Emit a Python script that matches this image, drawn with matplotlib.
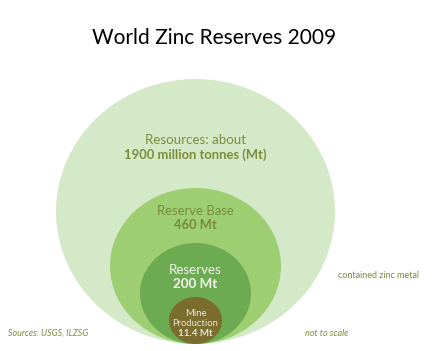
import matplotlib
matplotlib.use("Agg")
import matplotlib.pyplot as plt
from matplotlib.patches import Ellipse

# Data
categories = ["Resources", "Reserve Base", "Reserves", "Mine Production"]
values_mt = [1900, 460, 200, 11.4]
name_labels = [["Resources: about"], ["Reserve Base"], ["Reserves"], ["Mine", "Production"]]
value_labels = ["1900 million tonnes (Mt)", "460 Mt", "200 Mt", "11.4 Mt"]
title = "World Zinc Reserves 2009"
note_right = "contained zinc metal"
note_source = "Sources: USGS, ILZSG"
note_scale = "not to scale"

# Layout (pixels, not to scale)
W, H = 437, 351
cx, bottom = 195.5, 344
widths = [279, 171, 111, 53]
heights = [265, 156, 101, 47]
fills = ["#d4e9c7", "#9dcf72", "#6dab52", "#7a6d2e"]
name_y = [[140], [211], [270], [313, 323]]
value_y = [155, 225, 284, 333]
name_sizes = [9.6, 9.4, 9.6, 6.8]
value_sizes = [9.4, 9.4, 9.6, 7.0]
text_colors = ["#7d8c3c", "#768a3c", "#f2f6ec", "#e6e6d6"]
fam = ["Lato", "DejaVu Sans"]

fig = plt.figure(figsize=(W / 100, H / 100), dpi=100)
ax = fig.add_axes([0, 0, 1, 1])
ax.set_xlim(0, W)
ax.set_ylim(H, 0)
ax.axis("off")

for w, h, c in zip(widths, heights, fills):
    ax.add_patch(Ellipse((cx, bottom - h / 2), w, h, facecolor=c, edgecolor="none"))

for i in range(len(categories)):
    for line, y in zip(name_labels[i], name_y[i]):
        ax.text(cx, y, line, ha="center", va="center", fontsize=name_sizes[i],
                color=text_colors[i], family=fam)
    ax.text(cx, value_y[i], value_labels[i], ha="center", va="center", fontsize=value_sizes[i],
            color=text_colors[i], family=fam, fontweight="bold")

ax.text(214, 38, title, ha="center", va="center", fontsize=15, color="black", family=fam)
ax.text(379, 275, note_right, ha="center", va="center", fontsize=6.5, color="#7d8c3c", family=fam)
ax.text(8, 333, note_source, ha="left", va="center", fontsize=6.4, color="#7d8c3c",
        family=fam, style="italic")
ax.text(305, 333, note_scale, ha="left", va="center", fontsize=6.5, color="#7d8c3c",
        family=fam, style="italic")

fig.savefig("out.png", dpi=100)
